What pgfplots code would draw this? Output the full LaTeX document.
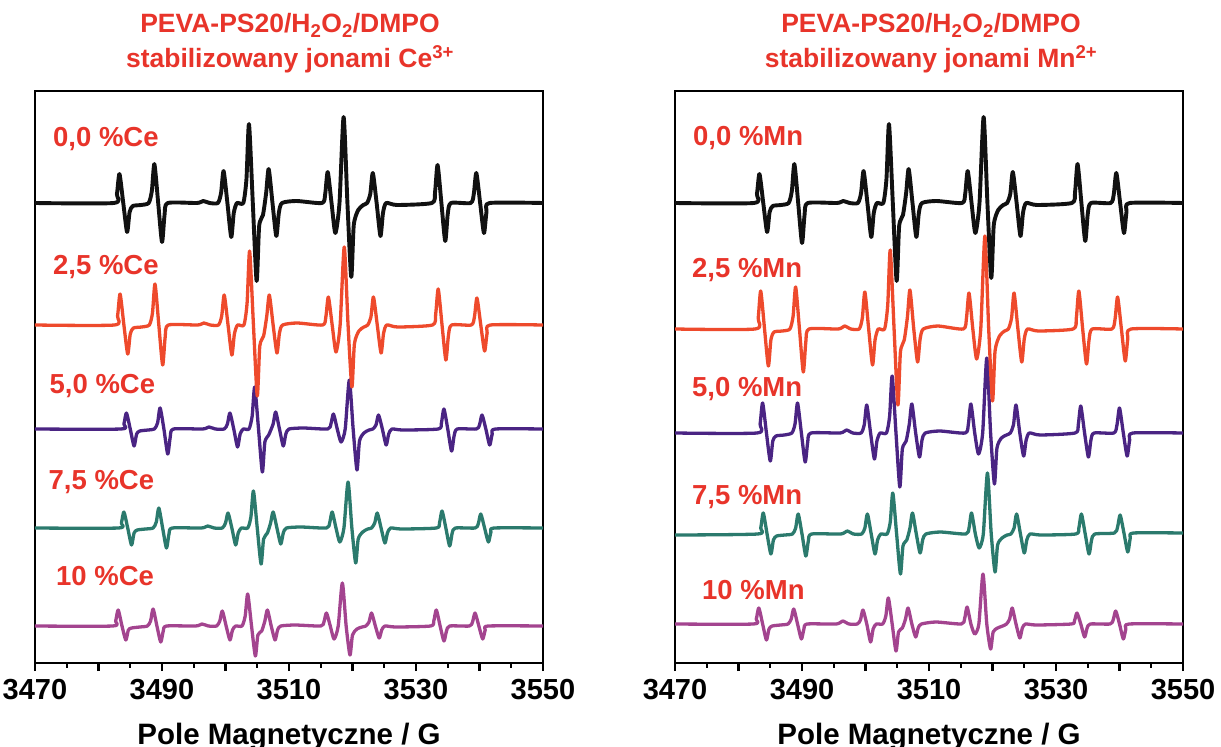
\documentclass[border=0pt]{standalone}
\usepackage{fontspec}
\setmainfont{Liberation Sans}
\usepackage{pgfplots}
\pgfplotsset{compat=1.18}
\definecolor{lblred}{HTML}{E8342A}
\definecolor{cblack}{HTML}{111111}
\definecolor{cred}{HTML}{EE4A2C}
\definecolor{cpurple}{HTML}{4A2483}
\definecolor{cteal}{HTML}{2B7A6D}
\definecolor{cmag}{HTML}{A3448F}
\pgfplotsset{
  eprax/.style={
    scale only axis, width=508pt, height=572pt,
    xmin=3470, xmax=3550, ymin=91, ymax=663, y dir=reverse,
    ytick=\empty,
    xtick={3470,3480,...,3550},
    xticklabels={3470,,3490,,3510,,3530,,3550},
    minor x tick num=1,
    xtick pos=left,
    tick align=outside,
    major tick length=8pt, minor tick length=4.5pt,
    tick style={line width=2.4pt, black},
    axis line style={line width=2.6pt, black},
    /pgf/number format/assume math mode=true,
    tick label style={font=\fontsize{29}{29}\selectfont\bfseries, text=black},
    xticklabel style={yshift=-5pt},
    xlabel={Pole Magnetyczne / G},
    every axis x label/.style={at={(axis description cs:0.5,0)}, anchor=base, yshift=-81pt, font=\fontsize{29.5}{29.5}\selectfont\bfseries},
  },
  tr/.style={smooth, tension=0.4, line join=round, line cap=round, no markers},
}
\begin{document}
\begin{tikzpicture}[x=1pt,y=1pt]
% ---------------- left panel: Ce ----------------
\begin{axis}[eprax, at={(35pt,84pt)}, anchor=south west]
\addplot[tr, cmag, line width=3.3pt] coordinates {(3470,626) (3482.2,626) (3482.7,621) (3483.1,610) (3483.7,626) (3484.3,640) (3484.7,630) (3485.2,628) (3486.5,627) (3487.7,626) (3488.2,621) (3488.6,609) (3489.2,626) (3489.8,642) (3490.2,631) (3490.7,626) (3495.3,626) (3496.3,624) (3497.3,626) (3498.6,626) (3499.1,621) (3499.5,611) (3500.1,626) (3500.7,640) (3501.1,630) (3501.6,626) (3502.6,626) (3503.1,616) (3503.5,594) (3504.1,626) (3504.7,656) (3505.1,635) (3505.7,631) (3506.2,621) (3506.6,610) (3507.2,626) (3507.8,640) (3508.2,630) (3508.7,626) (3511.0,625) (3515.0,626) (3515.5,622) (3515.9,613) (3516.5,626) (3517.1,639) (3517.75,626) (3518.4,583) (3519.0,626) (3519.6,655) (3520.0,635) (3520.7,629) (3521.5,627) (3522.1,626) (3522.6,622) (3523.0,613) (3523.6,626) (3524.2,638) (3524.6,630) (3525.1,626) (3526.8,627) (3532.3,626) (3532.8,621) (3533.2,610) (3533.8,626) (3534.4,641) (3534.8,631) (3535.3,626) (3538.4,626) (3538.9,622) (3539.3,613) (3539.9,626) (3540.5,639) (3540.9,630) (3541.4,626) (3550,626)};
\addplot[tr, cteal, line width=3.3pt] coordinates {(3470,528) (3483.1,528) (3483.6,523) (3484.0,512) (3484.6,528) (3485.2,545) (3485.6,533) (3486.1,530) (3487.4,529) (3488.6,528) (3489.1,522) (3489.5,508) (3490.1,528) (3490.7,548) (3491.1,534) (3491.6,528) (3496.2,528) (3497.2,526) (3498.2,528) (3499.5,528) (3500.0,523) (3500.4,513) (3501.0,528) (3501.6,545) (3502.0,533) (3502.5,528) (3503.5,528) (3504.0,517) (3504.4,491) (3505.0,528) (3505.6,564) (3506.0,539) (3506.6,533) (3507.1,523) (3507.5,512) (3508.1,528) (3508.7,544) (3509.1,533) (3509.6,528) (3511.9,527) (3515.9,528) (3516.4,523) (3516.8,512) (3517.4,528) (3518.0,542) (3518.65,528) (3519.3,482) (3519.9,528) (3520.5,563) (3520.9,539) (3521.6,532) (3522.4,529) (3523.0,528) (3523.5,523) (3523.9,513) (3524.5,528) (3525.1,543) (3525.5,533) (3526.0,528) (3527.7,529) (3533.2,528) (3533.7,523) (3534.1,511) (3534.7,528) (3535.3,546) (3535.7,533) (3536.2,528) (3539.3,528) (3539.8,524) (3540.2,514) (3540.8,528) (3541.4,542) (3541.8,532) (3542.3,528) (3550,528)};
\addplot[tr, cpurple, line width=3.3pt] coordinates {(3470,429) (3483.5,429) (3484.0,424) (3484.4,413) (3485.0,429) (3485.6,446) (3486.0,434) (3486.5,431) (3487.8,430) (3488.8,429) (3489.3,423) (3489.7,408) (3490.3,429) (3490.9,454) (3491.3,437) (3491.8,429) (3496.4,429) (3497.4,427) (3498.4,429) (3499.8,429) (3500.3,424) (3500.7,413) (3501.3,429) (3501.9,447) (3502.3,434) (3502.8,429) (3503.7,429) (3504.2,416) (3504.6,387) (3505.2,429) (3505.8,472) (3506.2,442) (3506.8,435) (3507.5,424) (3507.9,412) (3508.5,429) (3509.1,446) (3509.5,434) (3510.0,429) (3512.3,428) (3516.1,429) (3516.6,424) (3517.0,414) (3517.6,429) (3518.2,442) (3518.85,429) (3519.5,380) (3520.1,429) (3520.7,470) (3521.1,441) (3521.8,433) (3522.6,430) (3523.2,429) (3523.7,425) (3524.1,415) (3524.7,429) (3525.3,445) (3525.7,434) (3526.2,429) (3527.9,430) (3533.5,429) (3534.0,423) (3534.4,409) (3535.0,429) (3535.6,451) (3536.0,436) (3536.5,429) (3539.5,429) (3540.0,425) (3540.4,415) (3541.0,429) (3541.6,445) (3542.0,434) (3542.5,429) (3550,429)};
\addplot[tr, cred, line width=3.3pt] coordinates {(3470,325) (3482.5,325) (3483.0,316) (3483.4,294) (3484.0,325) (3484.6,354) (3485.0,334) (3485.5,328) (3486.8,327) (3488.0,325) (3488.5,313) (3488.9,284) (3489.5,325) (3490.1,365) (3490.5,337) (3491.0,325) (3495.6,325) (3496.6,323) (3497.6,325) (3498.9,325) (3499.4,316) (3499.8,295) (3500.4,325) (3501.0,355) (3501.4,334) (3501.9,325) (3502.9,325) (3503.4,303) (3503.8,251) (3504.4,325) (3505.0,396) (3505.4,346) (3506.0,336) (3506.5,316) (3506.9,295) (3507.5,325) (3508.1,353) (3508.5,333) (3509.0,325) (3511.3,323) (3515.3,325) (3515.8,317) (3516.2,297) (3516.8,325) (3517.4,352) (3518.05,325) (3518.7,247) (3519.3,325) (3519.9,387) (3520.3,344) (3521.0,331) (3521.8,327) (3522.4,325) (3522.9,317) (3523.3,297) (3523.9,325) (3524.5,353) (3524.9,333) (3525.4,325) (3527.1,327) (3532.6,325) (3533.1,314) (3533.5,289) (3534.1,325) (3534.7,360) (3535.1,336) (3535.6,325) (3538.7,325) (3539.2,317) (3539.6,298) (3540.2,325) (3540.8,351) (3541.2,333) (3541.7,325) (3550,325)};
\addplot[tr, cblack, line width=3.9pt] coordinates {(3470,203) (3482.4,203) (3482.9,194) (3483.3,174) (3483.9,203) (3484.5,232) (3484.9,212) (3485.4,206) (3486.7,205) (3487.9,203) (3488.4,191) (3488.8,164) (3489.4,203) (3490.0,242) (3490.4,215) (3490.9,203) (3495.5,203) (3496.5,201) (3497.5,203) (3498.8,203) (3499.3,193) (3499.7,171) (3500.3,203) (3500.9,237) (3501.3,213) (3501.8,203) (3502.8,203) (3503.3,179) (3503.7,124) (3504.3,203) (3504.9,281) (3505.3,226) (3505.9,215) (3506.4,193) (3506.8,169) (3507.4,203) (3508.0,236) (3508.4,213) (3508.9,203) (3511.2,201) (3515.2,203) (3515.7,194) (3516.1,172) (3516.7,203) (3517.3,233) (3517.95,203) (3518.6,117) (3519.2,203) (3519.8,277) (3520.2,225) (3520.9,210) (3521.7,205) (3522.3,203) (3522.8,194) (3523.2,173) (3523.8,203) (3524.4,236) (3524.8,213) (3525.3,203) (3527.0,205) (3532.5,203) (3533.0,192) (3533.4,165) (3534.0,203) (3534.6,241) (3535.0,214) (3535.5,203) (3538.6,203) (3539.1,194) (3539.5,173) (3540.1,203) (3540.7,233) (3541.1,212) (3541.6,203) (3550,203)};
\end{axis}
% ---------------- right panel: Mn ----------------
\begin{axis}[eprax, at={(675pt,84pt)}, anchor=south west]
\addplot[tr, cmag, line width=3.3pt] coordinates {(3470,624) (3482.3,624) (3482.8,619) (3483.2,608) (3483.8,624) (3484.4,640) (3484.8,629) (3485.3,626) (3486.6,625) (3487.8,624) (3488.3,619) (3488.7,609) (3489.3,624) (3489.9,639) (3490.3,629) (3490.8,624) (3495.4,624) (3496.4,621) (3497.4,624) (3498.7,624) (3499.2,620) (3499.6,610) (3500.2,624) (3500.8,642) (3501.2,629) (3501.7,624) (3502.7,624) (3503.2,616) (3503.6,598) (3504.2,624) (3504.8,651) (3505.2,632) (3505.8,628) (3506.3,619) (3506.7,608) (3507.3,624) (3507.9,637) (3508.3,628) (3508.8,624) (3511.1,622) (3515.1,624) (3515.6,619) (3516.0,607) (3516.6,624) (3517.2,634) (3517.85,624) (3518.5,574) (3519.1,624) (3519.7,649) (3520.1,632) (3520.8,628) (3521.6,626) (3522.2,624) (3522.7,619) (3523.1,608) (3523.7,624) (3524.3,638) (3524.7,628) (3525.2,624) (3526.9,625) (3532.4,624) (3532.9,621) (3533.3,613) (3533.9,624) (3534.5,637) (3534.9,628) (3535.4,624) (3538.5,624) (3539.0,620) (3539.4,611) (3540.0,624) (3540.6,639) (3541.0,629) (3541.5,624) (3550,624)};
\addplot[tr, cteal, line width=3.3pt] coordinates {(3470,535) (3483.0,534) (3483.5,528) (3483.9,513) (3484.5,534) (3485.1,554) (3485.5,540) (3486.0,536) (3487.3,535) (3488.5,534) (3489.0,528) (3489.4,514) (3490.0,534) (3490.6,556) (3491.0,541) (3491.5,534) (3496.1,534) (3497.1,531) (3498.1,534) (3499.4,534) (3499.9,528) (3500.3,514) (3500.9,534) (3501.5,554) (3501.9,540) (3502.4,534) (3503.4,534) (3503.9,522) (3504.3,493) (3504.9,534) (3505.5,574) (3505.9,546) (3506.5,540) (3507.0,528) (3507.4,513) (3508.0,534) (3508.6,553) (3509.0,540) (3509.5,534) (3511.8,532) (3515.8,534) (3516.3,528) (3516.7,513) (3517.3,534) (3517.9,548) (3518.55,534) (3519.2,473) (3519.8,534) (3520.4,572) (3520.8,545) (3521.5,538) (3522.3,535) (3522.9,534) (3523.4,528) (3523.8,514) (3524.4,534) (3525.0,553) (3525.4,540) (3525.9,534) (3527.6,535) (3533.1,534) (3533.6,528) (3534.0,514) (3534.6,534) (3535.2,554) (3535.6,540) (3536.1,534) (3539.2,533) (3539.7,527) (3540.1,515) (3540.7,533) (3541.3,552) (3541.7,538) (3542.2,533) (3550,533)};
\addplot[tr, cpurple, line width=3.3pt] coordinates {(3470,433) (3482.9,433) (3483.4,424) (3483.8,403) (3484.4,433) (3485.0,461) (3485.4,441) (3485.9,436) (3487.2,435) (3488.4,433) (3488.9,424) (3489.3,403) (3489.9,433) (3490.5,462) (3490.9,442) (3491.4,433) (3496.0,433) (3497.0,430) (3498.0,433) (3499.3,433) (3499.8,425) (3500.2,405) (3500.8,433) (3501.4,459) (3501.8,441) (3502.3,433) (3503.3,433) (3503.8,416) (3504.2,376) (3504.8,433) (3505.4,487) (3505.8,449) (3506.4,441) (3506.9,424) (3507.3,404) (3507.9,433) (3508.5,457) (3508.9,440) (3509.4,433) (3511.7,431) (3515.7,433) (3516.2,424) (3516.6,404) (3517.2,433) (3517.8,454) (3518.45,433) (3519.1,358) (3519.7,433) (3520.3,484) (3520.7,448) (3521.4,438) (3522.2,435) (3522.8,433) (3523.3,425) (3523.7,405) (3524.3,433) (3524.9,456) (3525.3,440) (3525.8,433) (3527.5,435) (3533.0,433) (3533.5,425) (3533.9,406) (3534.5,433) (3535.1,457) (3535.5,440) (3536.0,433) (3539.1,433) (3539.6,425) (3540.0,408) (3540.6,433) (3541.2,456) (3541.6,440) (3542.1,433) (3550,433)};
\addplot[tr, cred, line width=3.3pt] coordinates {(3470,329) (3482.6,329) (3483.1,318) (3483.5,291) (3484.1,329) (3484.7,366) (3485.1,340) (3485.6,332) (3486.9,331) (3488.1,329) (3488.6,316) (3489.0,287) (3489.6,329) (3490.2,372) (3490.6,342) (3491.1,329) (3495.7,329) (3496.7,326) (3497.7,329) (3499.0,329) (3499.5,318) (3499.9,292) (3500.5,329) (3501.1,365) (3501.5,340) (3502.0,329) (3503.0,329) (3503.5,305) (3503.9,250) (3504.5,329) (3505.1,405) (3505.5,352) (3506.1,340) (3506.6,317) (3507.0,290) (3507.6,329) (3508.2,362) (3508.6,339) (3509.1,329) (3511.4,326) (3515.4,329) (3515.9,318) (3516.3,293) (3516.9,329) (3517.5,359) (3518.15,329) (3518.8,236) (3519.4,329) (3520.0,401) (3520.4,351) (3521.1,336) (3521.9,331) (3522.5,329) (3523.0,318) (3523.4,293) (3524.0,329) (3524.6,362) (3525.0,339) (3525.5,329) (3527.2,331) (3532.7,329) (3533.2,318) (3533.6,291) (3534.2,329) (3534.8,364) (3535.2,340) (3535.7,329) (3538.8,329) (3539.3,319) (3539.7,297) (3540.3,329) (3540.9,361) (3541.3,339) (3541.8,329) (3550,329)};
\addplot[tr, cblack, line width=3.9pt] coordinates {(3470,203) (3482.4,203) (3482.9,194) (3483.3,174) (3483.9,203) (3484.5,232) (3484.9,212) (3485.4,206) (3486.7,205) (3487.9,203) (3488.4,191) (3488.8,164) (3489.4,203) (3490.0,243) (3490.4,215) (3490.9,203) (3495.5,203) (3496.5,201) (3497.5,203) (3498.8,203) (3499.3,193) (3499.7,171) (3500.3,203) (3500.9,237) (3501.3,213) (3501.8,203) (3502.8,203) (3503.3,179) (3503.7,124) (3504.3,203) (3504.9,281) (3505.3,226) (3505.9,215) (3506.4,193) (3506.8,169) (3507.4,203) (3508.0,237) (3508.4,213) (3508.9,203) (3511.2,201) (3515.2,203) (3515.7,194) (3516.1,171) (3516.7,203) (3517.3,233) (3517.95,203) (3518.6,117) (3519.2,203) (3519.8,278) (3520.2,225) (3520.9,210) (3521.7,205) (3522.3,203) (3522.8,194) (3523.2,172) (3523.8,203) (3524.4,236) (3524.8,213) (3525.3,203) (3527.0,205) (3532.5,203) (3533.0,192) (3533.4,164) (3534.0,203) (3534.6,241) (3535.0,214) (3535.5,203) (3538.6,203) (3539.1,194) (3539.5,173) (3540.1,203) (3540.7,233) (3541.1,212) (3541.6,203) (3550,203)};
\end{axis}
% ---------------- titles ----------------
\begin{scope}[every node/.style={anchor=base, inner sep=0pt, text=lblred, font=\fontsize{26.5}{26.5}\selectfont\bfseries}]
\node at (290,714) {PEVA-PS20/H\textsubscript{2}O\textsubscript{2}/DMPO};
\node at (290,679) {stabilizowany jonami Ce\textsuperscript{3+}};
\node at (931,714) {PEVA-PS20/H\textsubscript{2}O\textsubscript{2}/DMPO};
\node at (931,679) {stabilizowany jonami Mn\textsuperscript{2+}};
\end{scope}
% ---------------- series labels ----------------
\begin{scope}[every node/.style={anchor=base west, inner sep=0pt, text=lblred, font=\fontsize{27.5}{27.5}\selectfont\bfseries}]
\node at (53,600) {0,0 \%Ce};
\node at (53,472.7) {2,5 \%Ce};
\node at (49.5,353) {5,0 \%Ce};
\node at (48.5,257.7) {7,5 \%Ce};
\node at (56,161) {10 \%Ce};
\node at (693,601) {0,0 \%Mn};
\node at (692,469.3) {2,5 \%Mn};
\node at (692,350.3) {5,0 \%Mn};
\node at (692,242.7) {7,5 \%Mn};
\node at (702,147) {10 \%Mn};
\end{scope}
\pgfresetboundingbox
\path[use as bounding box] (0,0) rectangle (1221,747);
\end{tikzpicture}
\end{document}
